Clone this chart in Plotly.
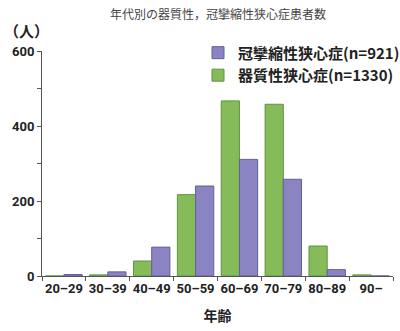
import plotly.graph_objects as go

categories = ["20–29", "30–39", "40–49", "50–59", "60–69", "70–79", "80–89", "90–"]
organic = [0, 3, 40, 217, 467, 458, 80, 3]       # 器質性狭心症 (green)
vasospastic = [4, 11, 77, 240, 311, 258, 17, 0]  # 冠攣縮性狭心症 (purple)
ytick_vals = [0, 200, 400, 600]

title_text = "年代別の器質性，冠攣縮性狭心症患者数"
name_org = "器質性狭心症(n=1330)"
name_vas = "冠攣縮性狭心症(n=921)"

FONT = "Noto Sans CJK JP"

fig = go.Figure()
fig.add_trace(go.Bar(
    x=categories, y=organic, name=name_org,
    marker=dict(color="#86bb5a", line=dict(color="#5f9440", width=1)),
    legendrank=2,
))
fig.add_trace(go.Bar(
    x=categories, y=vasospastic, name=name_vas,
    marker=dict(color="#8b84c2", line=dict(color="#655d9c", width=1)),
    legendrank=1,
))

fig.update_layout(
    width=400, height=331,
    margin=dict(l=42, r=7, t=51, b=55, autoexpand=False),
    paper_bgcolor="white", plot_bgcolor="white",
    barmode="group", bargap=0.17, bargroupgap=0,
    font=dict(family=FONT, color="#222"),
    title=dict(text=title_text, x=0.545, xanchor="center", y=0.955, yanchor="middle",
               font=dict(size=12, color="#444", family=FONT)),
    showlegend=True,
    legend=dict(xref="container", yref="container", x=0.495, y=0.89,
                xanchor="left", yanchor="top",
                bgcolor="rgba(0,0,0,0)", itemwidth=30, tracegroupgap=0,
                font=dict(size=15, family=FONT, color="#222", weight="bold")),
    xaxis=dict(
        showline=True, linecolor="#555", linewidth=1,
        ticks="outside", tickson="boundaries", ticklen=4, tickcolor="#555",
        tickangle=0, automargin=False,
        tickfont=dict(size=13, family="Roboto", color="#222", weight="bold"),
        title=dict(text="年齢", font=dict(size=14, family=FONT, color="#222", weight="bold"), standoff=16),
        showgrid=False, zeroline=False,
    ),
    yaxis=dict(
        range=[0, 600], tickvals=ytick_vals, automargin=False,
        showline=True, linecolor="#555", linewidth=1,
        ticks="outside", ticklen=4, tickcolor="#555",
        minor=dict(dtick=100, ticks="outside", ticklen=4, tickcolor="#555"),
        tickfont=dict(size=13, family="Roboto", color="#222", weight="bold"),
        showgrid=False, zeroline=False,
    ),
    annotations=[dict(text="（人）", xref="paper", yref="paper", x=-0.115, y=1.035,
                      xanchor="left", yanchor="bottom", showarrow=False,
                      font=dict(size=15, family=FONT, color="#222", weight="bold"))],
)

fig.write_html("out.html")
